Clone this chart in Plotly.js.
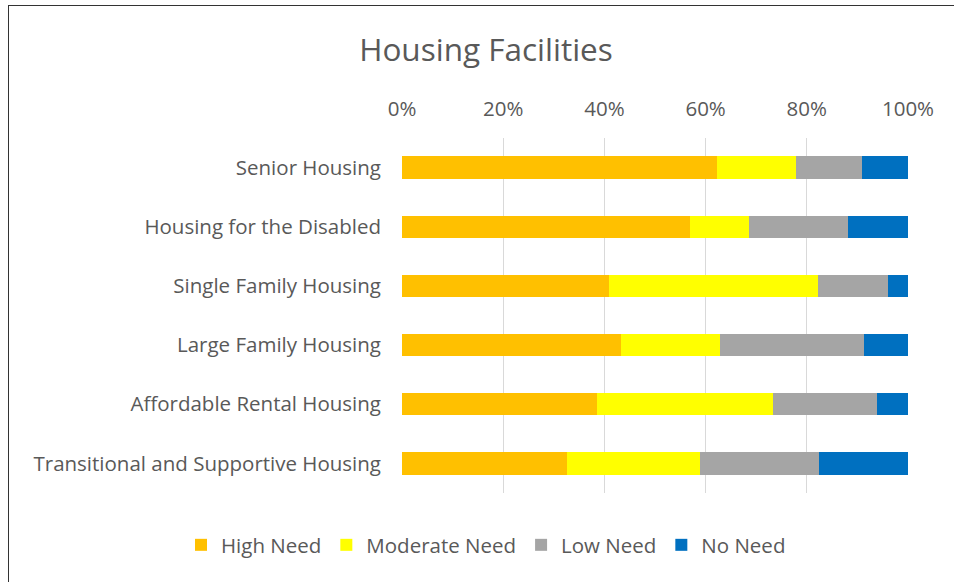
<!DOCTYPE html>
<html>
<head>
<meta charset="utf-8">
<script src="https://cdn.plot.ly/plotly-3.0.1.min.js"></script>
<style>
html,body{margin:0;padding:0;background:#fff;}
#wrap{position:relative;width:954px;height:582px;}
#chart{width:954px;height:582px;}
#frame{position:absolute;left:8px;top:5px;right:0;bottom:0;border-left:1px solid #333;border-top:1px solid #333;pointer-events:none;}
</style>
</head>
<body>
<div id="wrap"><div id="chart"></div><div id="frame"></div></div>
<script>
const categories = ["Senior Housing","Housing for the Disabled","Single Family Housing","Large Family Housing","Affordable Rental Housing","Transitional and Supportive Housing"];
const highNeed = [62.2, 56.9, 41.0, 43.3, 38.6, 32.6];
const moderateNeed = [15.6, 11.7, 41.2, 19.6, 34.7, 26.2];
const lowNeed = [13.2, 19.6, 13.9, 28.5, 20.6, 23.7];
const noNeed = [9.0, 11.8, 3.9, 8.6, 6.1, 17.5];
const xTickVals = [0, 20, 40, 60, 80, 100];
const xTickText = ["0%","20%","40%","60%","80%","100%"];

const font = "'Open Sans', 'Noto Sans', sans-serif";
const fs = 20.5;
function series(name, vals, color){
  return {type:'bar', orientation:'h', name:name, y:categories, x:vals,
    marker:{color:color, line:{width:0}}, width:0.38, hoverinfo:'x+y+name'};
}
const data = [
  series('High Need', highNeed, '#FFC000'),
  series('Moderate Need', moderateNeed, '#FFFF00'),
  series('Low Need', lowNeed, '#A5A5A5'),
  series('No Need', noNeed, '#0070C0')
];
const layout = {
  width:954, height:582,
  margin:{l:402, r:46, t:138, b:89, pad:0},
  paper_bgcolor:'#fff', plot_bgcolor:'#fff',
  barmode:'stack',
  font:{family:font, color:'#595959', size:fs},
  title:{text:'Housing Facilities', font:{family:font, size:31.5, color:'#595959'}, x:486/954, xanchor:'center', xref:'container', y:1-50/582, yanchor:'middle', yref:'container'},
  xaxis:{side:'top', range:[0,100], tickvals:xTickVals, ticktext:xTickText, showgrid:true, gridcolor:'#d9d9d9', gridwidth:1, zeroline:false, showline:false, ticks:'', ticklabelstandoff:17, tickfont:{size:fs, color:'#595959'}, fixedrange:true},
  yaxis:{autorange:'reversed', type:'category', showgrid:false, zeroline:false, showline:false, ticks:'', ticklabelstandoff:20, tickfont:{size:fs, color:'#595959'}, fixedrange:true},
  showlegend:true,
  legend:{orientation:'h', x:(181-402)/506, xanchor:'left', xref:'paper', y:(493-545)/355, yanchor:'middle', yref:'paper', font:{size:fs, color:'#595959'}, itemwidth:30, traceorder:'normal'},
  bargap:0.62
};
Plotly.newPlot('chart', data, layout, {displayModeBar:false, staticPlot:true});
</script>
</body>
</html>
